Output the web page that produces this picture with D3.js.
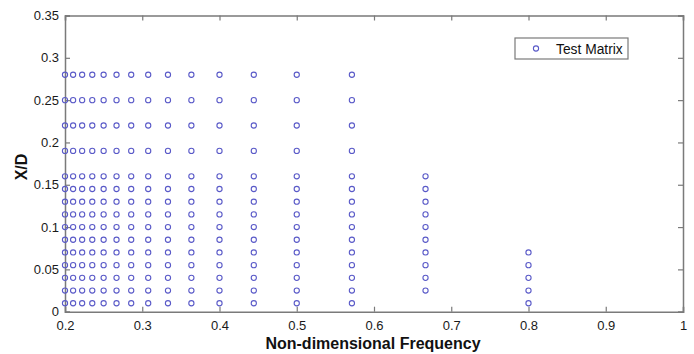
<!DOCTYPE html>
<html>
<head>
<meta charset="utf-8">
<script src="https://cdn.jsdelivr.net/npm/d3@7"></script>
<style>
  body { margin: 0; background: #fff; }
  svg { display: block; font-family: "Liberation Sans", Arial, sans-serif; }
</style>
</head>
<body>
<svg id="chart" width="694" height="354"></svg>
<script>
// ── data ──────────────────────────────────────────────────────────────────────
// test frequencies (columns)
const freqs = [0.2, 0.2105, 0.2222, 0.2353, 0.25, 0.2667, 0.2857, 0.3077,
               0.3333, 0.3636, 0.4, 0.4444, 0.5, 0.5714, 0.6667, 0.8];

// X/D levels used by the low-frequency columns
const levelsFull = [0.01, 0.025, 0.04, 0.055, 0.07, 0.085, 0.1, 0.115, 0.13,
                    0.145, 0.16, 0.19, 0.22, 0.25, 0.28];
const levels0667 = [0.025, 0.04, 0.055, 0.07, 0.085, 0.1, 0.115, 0.13, 0.145, 0.16];
const levels08   = [0.01, 0.025, 0.04, 0.055, 0.07];

const xTicks = [0.2, 0.3, 0.4, 0.5, 0.6, 0.7, 0.8, 0.9, 1];
const yTicks = [0, 0.05, 0.1, 0.15, 0.2, 0.25, 0.3, 0.35];

// build point list
const points = [];
freqs.forEach(f => {
  let lv = levelsFull;
  if (f === 0.6667) lv = levels0667;
  if (f === 0.8)    lv = levels08;
  lv.forEach(v => points.push({ f, v }));
});

// ── layout ───────────────────────────────────────────────────────────────────
const margin = { left: 65, top: 15.5, right: 694 - 683, bottom: 354 - 311.7 };
const width  = 694 - margin.left - margin.right;
const height = 354 - margin.top - margin.bottom;

const svg = d3.select('#chart');
const g = svg.append('g').attr('transform', `translate(${margin.left},${margin.top})`);

const x = d3.scaleLinear().domain([0.2, 1]).range([0, width]);
const y = d3.scaleLinear().domain([0, 0.35]).range([height, 0]);

const axisColor = '#7a7a7a';
const tickLen = 5;

// ── axes (box style, inward ticks) ──────────────────────────────────────────
const fmt = d => d3.format('')(+d.toFixed(2));

const xb = g.append('g').attr('transform', `translate(0,${height})`)
  .call(d3.axisBottom(x).tickValues(xTicks).tickSize(-tickLen).tickPadding(9).tickFormat(fmt));
const xt = g.append('g')
  .call(d3.axisTop(x).tickValues(xTicks).tickSize(-tickLen).tickFormat(''));
const yl = g.append('g')
  .call(d3.axisLeft(y).tickValues(yTicks).tickSize(-tickLen).tickPadding(6).tickFormat(fmt));
const yr = g.append('g').attr('transform', `translate(${width},0)`)
  .call(d3.axisRight(y).tickValues(yTicks).tickSize(-tickLen).tickFormat(''));

[xb, xt, yl, yr].forEach(a => {
  a.select('.domain').attr('stroke', axisColor).attr('stroke-width', 1.5);
  a.selectAll('.tick line').attr('stroke', axisColor).attr('stroke-width', 1.2);
  a.selectAll('.tick text').attr('fill', '#1a1a1a').attr('font-size', 13);
});

// ── points ──────────────────────────────────────────────────────────────────
g.append('g').selectAll('circle')
  .data(points)
  .join('circle')
  .attr('class', 'dot')
  .attr('cx', d => x(d.f))
  .attr('cy', d => y(d.v))
  .attr('r', 2.6)
  .attr('fill', 'none')
  .attr('stroke', '#5a5ac8')
  .attr('stroke-width', 1.1);

// ── legend ──────────────────────────────────────────────────────────────────
const leg = svg.append('g').attr('transform', 'translate(515,38)');
leg.append('rect')
  .attr('width', 113).attr('height', 21)
  .attr('fill', '#fff').attr('stroke', axisColor).attr('stroke-width', 1.2);
leg.append('circle')
  .attr('cx', 21).attr('cy', 10.5).attr('r', 2.6)
  .attr('fill', 'none').attr('stroke', '#5a5ac8').attr('stroke-width', 1.1);
leg.append('text')
  .attr('x', 41).attr('y', 15.5)
  .attr('font-size', 13.8).attr('fill', '#111')
  .text('Test Matrix');

// ── axis titles ─────────────────────────────────────────────────────────────
svg.append('text')
  .attr('x', 373).attr('y', 348.5)
  .attr('text-anchor', 'middle')
  .attr('font-size', 16).attr('font-weight', 'bold').attr('fill', '#111')
  .text('Non-dimensional Frequency');

svg.append('text')
  .attr('transform', 'translate(27,167) rotate(-90)')
  .attr('text-anchor', 'middle')
  .attr('font-size', 16).attr('font-weight', 'bold').attr('fill', '#111')
  .text('X/D');
</script>
</body>
</html>
